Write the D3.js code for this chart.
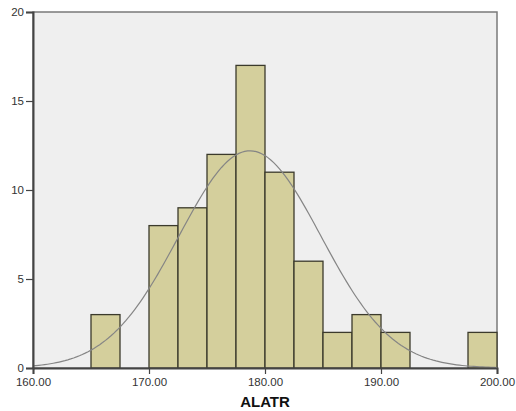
<!DOCTYPE html>
<html>
<head>
<meta charset="utf-8">
<script src="https://cdn.jsdelivr.net/npm/d3@7"></script>
<style>
  body { margin: 0; background: #fff; }
  text { font-family: "Liberation Sans", Arial, sans-serif; }
</style>
</head>
<body>
<svg width="516" height="411"></svg>
<script>
(function(){
  // histogram bins (lower edge, upper edge, count)
  var binStart = [165, 170, 172.5, 175, 177.5, 180, 182.5, 185, 187.5, 190, 197.5];
  var binEnd   = [167.5, 172.5, 175, 177.5, 180, 182.5, 185, 187.5, 190, 192.5, 200];
  var counts   = [3, 8, 9, 12, 17, 11, 6, 2, 3, 2, 2];
  var xTicks = [160, 170, 180, 190, 200];
  var yTicks = [0, 5, 10, 15, 20];
  // fitted normal
  var mean = 178.7, sd = 6.13, nTotal = 75, binWidth = 2.5;

  var svg = d3.select('svg');
  var left = 33, right = 497, top = 12, bottom = 368;

  var x = d3.scaleLinear().domain([160, 200]).range([left, right]);
  var y = d3.scaleLinear().domain([0, 20]).range([bottom, top]);

  svg.append('rect')
    .attr('x', left).attr('y', top)
    .attr('width', right - left).attr('height', bottom - top)
    .attr('fill', '#efefef')
    .attr('stroke', '#7a7a7a').attr('stroke-width', 1.5);

  var bars = binStart.map(function(s, i){ return {s: s, e: binEnd[i], c: counts[i]}; });
  svg.selectAll('rect.bar').data(bars)
    .enter().append('rect')
      .attr('class', 'bar')
      .attr('x', function(d){ return x(d.s); })
      .attr('y', function(d){ return y(d.c); })
      .attr('width', function(d){ return x(d.e) - x(d.s); })
      .attr('height', function(d){ return y(0) - y(d.c); })
      .attr('fill', '#d4cf9c')
      .attr('stroke', '#3b3a2c')
      .attr('stroke-width', 1.3);

  var pts = d3.range(160, 200.01, 0.25).map(function(v){
    var z = (v - mean) / sd;
    return [v, nTotal * binWidth / (sd * Math.sqrt(2 * Math.PI)) * Math.exp(-0.5 * z * z)];
  });
  svg.append('path')
    .datum(pts)
    .attr('fill', 'none')
    .attr('stroke', '#858585')
    .attr('stroke-width', 1.2)
    .attr('d', d3.line().x(function(d){ return x(d[0]); }).y(function(d){ return y(d[1]); }));

  var yAxis = svg.append('g')
    .attr('transform', 'translate(' + left + ',0)')
    .call(d3.axisLeft(y).tickValues(yTicks).tickSize(7).tickPadding(2).tickFormat(d3.format('d')));
  var xAxis = svg.append('g')
    .attr('transform', 'translate(0,' + bottom + ')')
    .call(d3.axisBottom(x).tickValues(xTicks).tickSize(6).tickPadding(4).tickFormat(d3.format('.2f')));

  [xAxis, yAxis].forEach(function(g){
    g.select('.domain').attr('stroke', '#444').attr('stroke-width', 2);
    g.selectAll('.tick line').attr('stroke', '#444').attr('stroke-width', 1.2);
    g.selectAll('.tick text').attr('fill', '#333').style('font-size', '11.5px')
      .style('font-family', '"Liberation Sans", Arial, sans-serif');
  });

  svg.append('text')
    .attr('x', (left + right) / 2).attr('y', 407)
    .attr('text-anchor', 'middle')
    .style('font-size', '15px').style('font-weight', 'bold')
    .attr('fill', '#111')
    .text('ALATR');
})();
</script>
</body>
</html>
